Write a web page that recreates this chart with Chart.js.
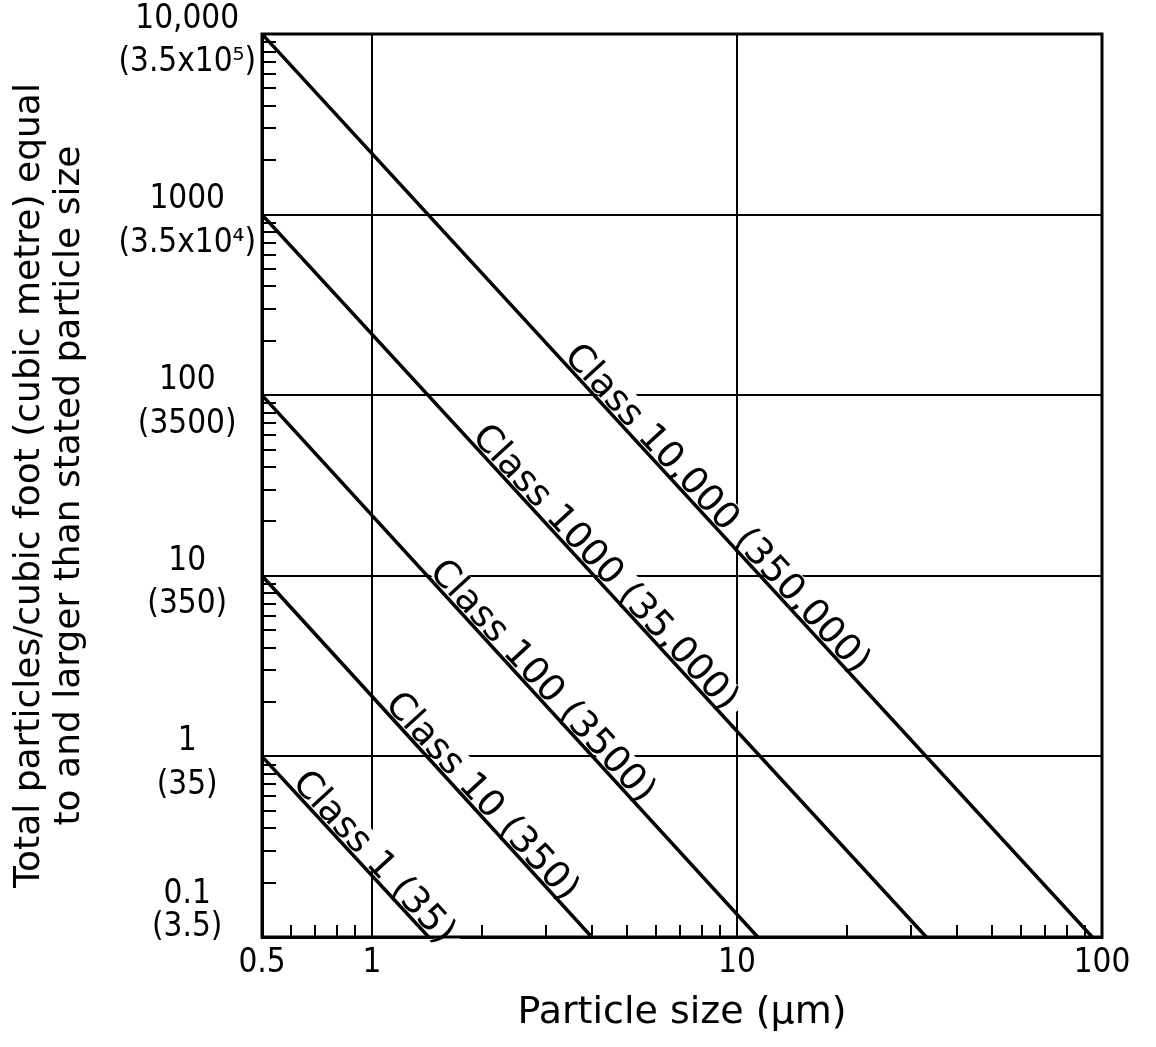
<!DOCTYPE html>
<html>
<head>
<meta charset="utf-8">
<script src="https://cdn.jsdelivr.net/npm/chart.js@4.4.1/dist/chart.umd.min.js"></script>
<style>
html,body{margin:0;padding:0;background:#fff;}
canvas{display:block;}
</style>
</head>
<body>
<canvas id="c" width="1156" height="1047"></canvas>
<script>
// ---- data ----
const classNames  = ['Class 1 (35)', 'Class 10 (350)', 'Class 100 (3500)', 'Class 1000 (35,000)', 'Class 10,000 (350,000)'];
const startSize   = [0.5, 0.5, 0.5, 0.5, 0.5];
const startCount  = [1, 10, 100, 1000, 10000];
const endSize     = [1.43, 4.0, 11.4, 33, 94];
const endCount    = [0.1, 0.1, 0.1, 0.1, 0.1];

// ---- axis ticks ----
const xTickValues = [0.5, 0.6, 0.7, 0.8, 0.9, 1, 2, 3, 4, 5, 6, 7, 8, 9, 10, 20, 30, 40, 50, 60, 70, 80, 90, 100];
const xMajorValues = [0.5, 1, 10, 100];
const xMajorLabels = ['0.5', '1', '10', '100'];
const yTickValues = [0.1, 0.2, 0.3, 0.4, 0.5, 0.6, 0.7, 0.8, 0.9,
                     1, 2, 3, 4, 5, 6, 7, 8, 9,
                     10, 20, 30, 40, 50, 60, 70, 80, 90,
                     100, 200, 300, 400, 500, 600, 700, 800, 900,
                     1000, 2000, 3000, 4000, 5000, 6000, 7000, 8000, 9000, 10000];
const yMajorValues = [0.1, 1, 10, 100, 1000, 10000];
const yMajorLabels = [['0.1', '(3.5)'], ['1', '(35)'], ['10', '(350)'], ['100', '(3500)'], ['1000', '(3.5x10\u2074)'], ['10,000', '(3.5x10\u2075)']];

const xTitle = 'Particle size (\u03bcm)';
const yTitle = ['Total particles/cubic foot (cubic metre) equal', 'to and larger than stated particle size'];

// ---- styling / placement ----
const labelAnchorSize = [0.95, 1.88, 2.75, 4.09, 8.28]; // x position of each class label centre
const TICK_FAMILY = '"DejaVu Sans Condensed", "Liberation Sans Narrow", "DejaVu Sans", sans-serif';
const TEXT_FAMILY = '"DejaVu Sans", sans-serif';

const datasets = classNames.map((name, i) => ({
  label: name,
  data: [{x: startSize[i], y: startCount[i]}, {x: endSize[i], y: endCount[i]}],
  borderColor: '#000',
  borderWidth: 3.5,
  pointRadius: 0,
  fill: false,
  tension: 0
}));

const classLabelPlugin = {
  id: 'classLabels',
  afterDatasetsDraw(chart, args, opts) {
    const {ctx} = chart;
    const xs = chart.scales.x, ys = chart.scales.y;
    chart.data.datasets.forEach((ds, i) => {
      const p0 = ds.data[0], p1 = ds.data[1];
      const at = opts.anchors[i];
      const t = Math.log(at / p0.x) / Math.log(p1.x / p0.x);
      const yv = Math.exp(Math.log(p0.y) + t * (Math.log(p1.y) - Math.log(p0.y)));
      const px = xs.getPixelForValue(at), py = ys.getPixelForValue(yv);
      const ang = Math.atan2(ys.getPixelForValue(p1.y) - ys.getPixelForValue(p0.y),
                             xs.getPixelForValue(p1.x) - xs.getPixelForValue(p0.x));
      ctx.save();
      ctx.translate(px, py);
      ctx.rotate(ang);
      ctx.font = opts.size + 'px ' + TEXT_FAMILY;
      const w = ctx.measureText(ds.label).width;
      ctx.fillStyle = '#fff';
      ctx.fillRect(-w / 2 - 8, -opts.size * 0.85, w + 16, opts.size * 0.85 - 3);
      ctx.fillStyle = '#000';
      ctx.textAlign = 'center';
      ctx.textBaseline = 'alphabetic';
      ctx.fillText(ds.label, 0, -3);
      ctx.restore();
    });
  }
};

const framePlugin = {
  id: 'frame',
  afterDraw(chart) {
    const {ctx, chartArea: a} = chart;
    ctx.save();
    ctx.strokeStyle = '#000';
    ctx.lineWidth = 3;
    ctx.strokeRect(a.left, a.top, a.right - a.left, a.bottom - a.top);
    ctx.restore();
  }
};

new Chart(document.getElementById('c'), {
  type: 'line',
  data: {datasets},
  plugins: [classLabelPlugin, framePlugin],
  options: {
    responsive: false,
    devicePixelRatio: 1,
    animation: false,
    layout: {padding: {top: 34, right: 54, bottom: 0, left: 0}},
    plugins: {
      legend: {display: false},
      tooltip: {enabled: false},
      classLabels: {anchors: labelAnchorSize, size: 37}
    },
    scales: {
      x: {
        type: 'logarithmic',
        min: 0.5,
        max: 100,
        afterBuildTicks: (s) => { s.ticks = xTickValues.map(v => ({value: v})); },
        afterFit: (s) => { s.height = 110; },
        ticks: {
          autoSkip: false,
          maxRotation: 0,
          padding: 19,
          color: '#000',
          font: {family: TICK_FAMILY, size: 33, lineHeight: 1.2},
          callback: (v) => { const k = xMajorValues.indexOf(v); return k >= 0 ? xMajorLabels[k] : ''; }
        },
        grid: {
          color: (c) => (c.tick && xMajorValues.includes(c.tick.value)) ? '#000' : 'rgba(0,0,0,0)',
          lineWidth: 2,
          tickColor: '#000',
          tickWidth: 2,
          tickLength: -12
        },
        border: {display: true, color: '#000', width: 3},
        title: {
          display: true,
          text: xTitle,
          color: '#000',
          font: {family: TEXT_FAMILY, size: 38, lineHeight: 1.2},
          padding: {top: 0, bottom: 11}
        }
      },
      y: {
        type: 'logarithmic',
        min: 0.1,
        max: 10000,
        afterBuildTicks: (s) => { s.ticks = yTickValues.map(v => ({value: v})); },
        afterFit: (s) => { s.width = 262; s.paddingTop = 0; s.paddingBottom = 0; },
        ticks: {
          autoSkip: false,
          padding: 20,
          labelOffset: 7,
          crossAlign: 'center',
          color: '#000',
          font: (c) => ({family: TICK_FAMILY, size: 33,
                         lineHeight: (c.tick && c.tick.value === 0.1) ? 1.0 : 1.32}),
          callback: (v) => {
            const k = yMajorValues.indexOf(v);
            if (k < 0) return '';
            return v === 0.1 ? yMajorLabels[k].concat(['', '']) : yMajorLabels[k];
          }
        },
        grid: {
          color: (c) => (c.tick && yMajorValues.includes(c.tick.value)) ? '#000' : 'rgba(0,0,0,0)',
          lineWidth: 2,
          tickColor: '#000',
          tickWidth: 2,
          tickLength: -14
        },
        border: {display: true, color: '#000', width: 3},
        title: {
          display: true,
          text: yTitle,
          color: '#000',
          font: {family: TEXT_FAMILY, size: 36, lineHeight: 1.11},
          padding: {top: 10, bottom: 0}
        }
      }
    }
  }
});
</script>
</body>
</html>
